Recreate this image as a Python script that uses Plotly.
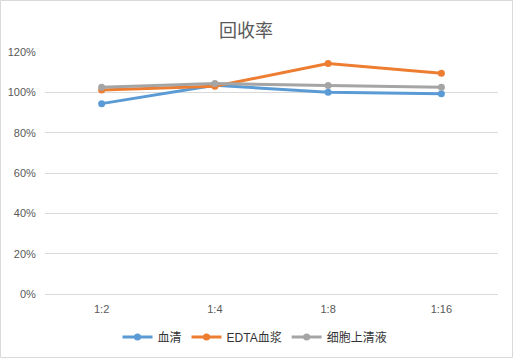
import plotly.graph_objects as go

categories = ["1:2", "1:4", "1:8", "1:16"]
serum = [0.944, 1.035, 1.001, 0.993]
edta_plasma = [1.011, 1.030, 1.143, 1.095]
supernatant = [1.025, 1.044, 1.034, 1.025]
series_names = ["血清", "EDTA血浆", "细胞上清液"]
colors = ["#5B9BD5", "#ED7D31", "#A5A5A5"]

W, H = 513, 358
ml, mr, mt, mb = 45, 15, 52, 64
pw, ph = W - ml - mr, H - mt - mb

font_family = "Liberation Sans, Noto Sans CJK SC, sans-serif"

fig = go.Figure()
for name, vals, col in zip(series_names, [serum, edta_plasma, supernatant], colors):
    fig.add_trace(go.Scatter(
        x=categories, y=vals, name=name, mode="lines+markers",
        line=dict(color=col, width=3),
        marker=dict(color=col, size=7),
    ))

fig.update_layout(
    width=W, height=H,
    margin=dict(l=ml, r=mr, t=mt, b=mb, autoexpand=False),
    paper_bgcolor="white", plot_bgcolor="white",
    font=dict(family=font_family, color="#595959", size=11),
    title=dict(text="回收率", x=246 / W, xanchor="center", xref="container",
               y=1 - 31 / H, yanchor="middle",
               font=dict(size=18, color="#595959", family="Noto Sans CJK SC, sans-serif")),
    showlegend=True,
    legend=dict(orientation="h", x=255 / W, xanchor="center", xref="container",
                yref="container", y=1 - 337 / H, yanchor="middle",
                font=dict(size=12, color="#333333", family=font_family),
                itemwidth=30, tracegroupgap=0),
    xaxis=dict(type="category", showgrid=False, showline=False, zeroline=False,
               ticks="outside", ticklen=5, tickcolor="rgba(0,0,0,0)", automargin=False,
               tickfont=dict(size=11, color="#595959"), range=[-0.5, 3.5]),
    yaxis=dict(range=[0, 1.2], dtick=0.2, tickformat=".0%", showgrid=True,
               gridcolor="#D9D9D9", gridwidth=1, zeroline=True, zerolinecolor="#D9D9D9",
               zerolinewidth=1, showline=False, ticks="outside", ticklen=6,
               tickcolor="rgba(0,0,0,0)", automargin=False,
               tickfont=dict(size=11, color="#595959")),
    shapes=[dict(type="rect", xref="paper", yref="paper",
                 x0=(0.5 - ml) / pw, x1=(W - 0.5 - ml) / pw,
                 y0=-(mb - 0.5) / ph, y1=1 + (mt - 0.5) / ph,
                 line=dict(color="#D9D9D9", width=1), fillcolor="rgba(0,0,0,0)", layer="below")],
)

fig.write_html("out.html", config={"displayModeBar": False},
               post_script="document.body.style.margin='0';document.body.style.overflow='hidden';")
